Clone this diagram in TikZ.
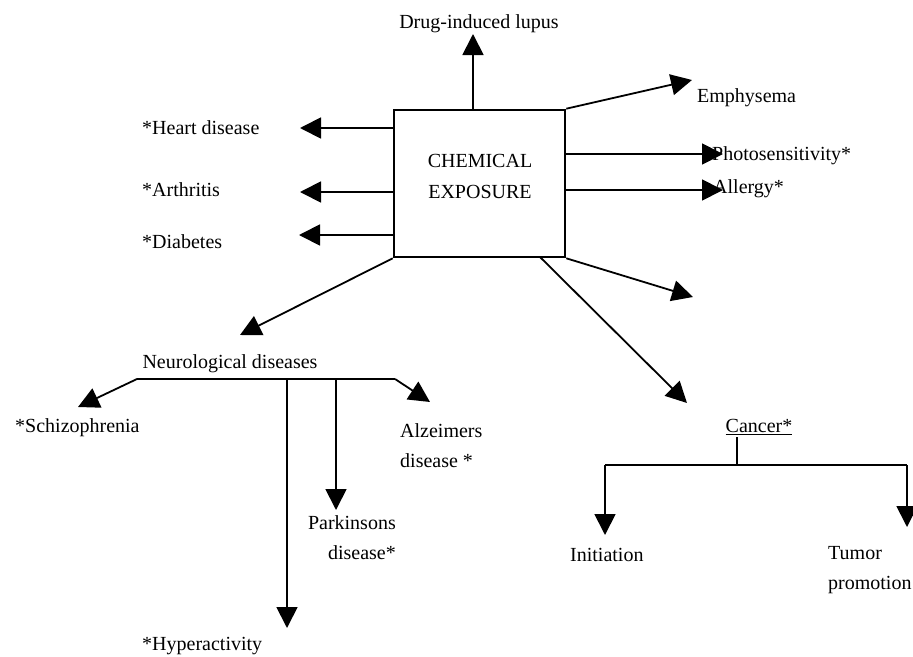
\documentclass[tikz,border=0pt]{standalone}
\usepackage{fontspec}
\setmainfont{Liberation Serif}
\usetikzlibrary{arrows.meta}

\begin{document}
\begin{tikzpicture}[x=1pt,y=-1pt,
  font=\fontsize{20}{30}\selectfont,
  arr/.style={-{Triangle[length=21pt,width=21pt]},line width=1.8pt},
  bar/.style={line width=1.8pt},
  lbl/.style={anchor=west,inner sep=0pt,align=left}]
\useasboundingbox (0,0) rectangle (913,656);

% the box
\node[draw,line width=2.6pt,minimum width=171pt,minimum height=147pt] (chem) at (479.5,183.5) {};
\node[align=center,inner sep=0pt,font=\fontsize{20}{31}\selectfont] (chemtext) at (480,176) {CHEMICAL\\EXPOSURE};

% labels
\node[inner sep=0pt] (lupus) at (479,24) {Drug-induced lupus};
\node[lbl] (emph) at (697,98) {Emphysema};
\node[lbl] (photo) at (712,156) {Photosensitivity*};
\node[lbl] (allergy) at (713,189) {Allergy*};
\node[lbl] (heart) at (142,128) {*Heart disease};
\node[lbl] (arthr) at (142,190) {*Arthritis};
\node[lbl] (diab) at (142,242) {*Diabetes};
\node[inner sep=0pt] (neuro) at (230,364) {Neurological diseases};
\node[lbl] (schizo) at (15,428) {*Schizophrenia};
\node[lbl] (alz) at (400,446) {Alzeimers\\disease *};
\node[anchor=east,inner sep=0pt,align=right] (park) at (396,538) {Parkinsons\\disease*};
\node[lbl] (hyper) at (142,646) {*Hyperactivity};
\node[inner sep=0pt] (cancer) at (759,427) {\underline{Cancer*}};
\node[lbl] (init) at (570,555) {Initiation};
\node[lbl] (tumor) at (828,570) {Tumor\\promotion};

% arrow tips
\coordinate (tLupus) at (473,34);
\coordinate (tEmph) at (692,80);
\coordinate (tPhoto) at (723,154);
\coordinate (tAllergy) at (723,190);
\coordinate (tHeart) at (300,128);
\coordinate (tArthr) at (300,192);
\coordinate (tDiab) at (299,235);
\coordinate (tNeuro) at (240,335);
\coordinate (tCancer) at (687,403);
\coordinate (tOther) at (693,297);
\coordinate (cStart) at (540,257);

% from the box
\draw[arr] (chem.north -| tLupus) -- (tLupus);
\draw[arr] (chem.north east) -- (tEmph);
\draw[arr] (chem.east |- tPhoto) -- (tPhoto);
\draw[arr] (chem.east |- tAllergy) -- (tAllergy);
\draw[arr] (chem.west |- tHeart) -- (tHeart);
\draw[arr] (chem.west |- tArthr) -- (tArthr);
\draw[arr] (chem.west |- tDiab) -- (tDiab);
\draw[arr] (chem.south west) -- (tNeuro);
\draw[arr] (cStart) -- (tCancer);
\draw[arr] (chem.south east) -- (tOther);

% neurological branch
\coordinate (nL) at (137,379);
\coordinate (nR) at (395,379);
\coordinate (nH) at (287,379);
\coordinate (nP) at (336,379);
\coordinate (tSchizo) at (78,407);
\coordinate (tAlz) at (430,402);
\coordinate (tHyper) at (287,628);
\coordinate (tPark) at (336,510);
\draw[bar] (nL) -- (nR);
\draw[arr] (nL) -- (tSchizo);
\draw[arr] (nR) -- (tAlz);
\draw[arr] (nH) -- (tHyper);
\draw[arr] (nP) -- (tPark);

% cancer branch
\coordinate (cTop) at (737,437);
\coordinate (cMid) at (737,465);
\coordinate (cL) at (605,465);
\coordinate (cR) at (907,465);
\coordinate (tInit) at (605,535);
\coordinate (tTumor) at (907,527);
\draw[bar] (cTop) -- (cMid);
\draw[bar] (cL) -- (cR);
\draw[arr] (cL) -- (tInit);
\draw[arr] (cR) -- (tTumor);
\end{tikzpicture}
\end{document}
